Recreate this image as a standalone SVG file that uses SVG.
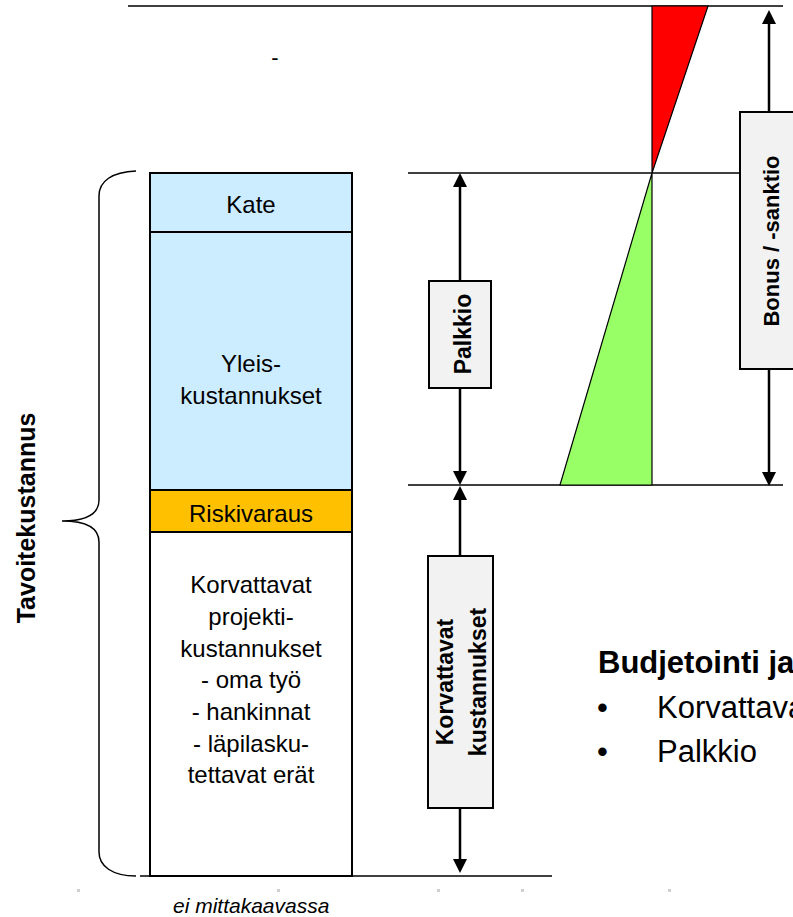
<svg xmlns="http://www.w3.org/2000/svg" width="793" height="917" viewBox="0 0 793 917">
<style>
.t{font-family:"Liberation Sans",Arial,sans-serif;fill:#000}
.c{font-size:24px;text-anchor:middle}
.b{font-weight:bold}
.ln{stroke:#000;stroke-width:1.5;fill:none}
.ar{stroke:#000;stroke-width:2.5;fill:none}
.lbl{fill:#F2F2F2;stroke:#000;stroke-width:2}
.col{stroke:#000;stroke-width:2}
</style>
<defs>
<marker id="ah" markerUnits="userSpaceOnUse" markerWidth="16" markerHeight="16" refX="4" refY="7" orient="auto-start-reverse" viewBox="0 0 16 16">
<path d="M0,0 L14,7 L0,14 z" fill="#000"/>
</marker>
</defs>
<rect width="793" height="917" fill="#fff"/>

<g id="guides">
<line class="ln" x1="128" y1="6" x2="783" y2="6"/>
<line class="ln" x1="408" y1="173" x2="740" y2="173"/>
<line class="ln" x1="408" y1="485" x2="783" y2="485"/>
<line class="ln" x1="140" y1="876" x2="552" y2="876"/>
</g>

<g id="triangles">
<polygon points="652,6 708,6 652,173" fill="#FF0000" stroke="#000" stroke-width="1.2"/>
<polygon points="652,173 652,485 560,485" fill="#99FF66" stroke="#000" stroke-width="1.2"/>
</g>

<text class="t" x="275" y="65" font-size="22" text-anchor="middle">-</text>

<g id="brace">
<path class="ln" d="M136,171 C112,172 99,181 99,196 L99,500 C99,514 86,521 62,521 C86,521 99,528 99,542 L99,852 C99,866 112,876 136,876"/>
</g>
<text class="t b" font-size="25" text-anchor="middle" transform="translate(35,518) rotate(-90)">Tavoitekustannus</text>

<g id="kate">
<rect class="col" x="150" y="173" width="202" height="59" fill="#CCECFF"/>
<text class="t c" x="251" y="213">Kate</text>
</g>
<g id="yleis">
<rect class="col" x="150" y="232" width="202" height="258" fill="#CCECFF"/>
<text class="t c" x="251" y="372">Yleis-</text>
<text class="t c" x="251" y="404">kustannukset</text>
</g>
<g id="riski">
<rect class="col" x="150" y="490" width="202" height="42" fill="#FFC000"/>
<text class="t c" x="251" y="522">Riskivaraus</text>
</g>
<g id="korvattavat">
<rect class="col" x="150" y="532" width="202" height="344" fill="#FFFFFF"/>
<text class="t c" x="251" y="593">Korvattavat</text>
<text class="t c" x="251" y="625">projekti-</text>
<text class="t c" x="251" y="657">kustannukset</text>
<text class="t c" x="251" y="688">- oma työ</text>
<text class="t c" x="251" y="720">- hankinnat</text>
<text class="t c" x="251" y="752">- läpilasku-</text>
<text class="t c" x="251" y="783">tettavat erät</text>
</g>

<g id="connectors">
<line class="ar" x1="460" y1="183" x2="460" y2="475" marker-start="url(#ah)" marker-end="url(#ah)"/>
<line class="ar" x1="460" y1="496" x2="460" y2="863" marker-start="url(#ah)" marker-end="url(#ah)"/>
<line class="ar" x1="769" y1="20" x2="769" y2="476" marker-start="url(#ah)" marker-end="url(#ah)"/>
</g>

<g id="palkkio">
<rect class="lbl" x="429" y="281" width="62" height="107"/>
<text class="t b" font-size="23" text-anchor="middle" transform="translate(471,334) rotate(-90)">Palkkio</text>
</g>
<g id="korv-label">
<rect class="lbl" x="428" y="556" width="65" height="252"/>
<text class="t b" font-size="23" text-anchor="middle" transform="translate(453,682) rotate(-90)">Korvattavat</text>
<text class="t b" font-size="23" text-anchor="middle" transform="translate(486,682) rotate(-90)">kustannukset</text>
</g>
<g id="bonus">
<rect class="lbl" x="740" y="112" width="62" height="257"/>
<text class="t b" font-size="22" text-anchor="middle" transform="translate(779,241) rotate(-90)">Bonus / -sanktio</text>
</g>

<g id="budjetointi">
<text class="t b" x="598" y="673" font-size="31">Budjetointi ja</text>
<text class="t" x="597" y="718" font-size="31">•</text>
<text class="t" x="657" y="718" font-size="31">Korvattavat</text>
<text class="t" x="597" y="762" font-size="31">•</text>
<text class="t" x="657" y="762" font-size="31">Palkkio</text>
</g>

<text class="t" x="173" y="913" font-size="21" font-style="italic">ei mittakaavassa</text>

<g id="dots" fill="#D0D0D0">
<rect x="77" y="889" width="3" height="3"/>
<rect x="277" y="889" width="3" height="3"/>
<rect x="437" y="889" width="3" height="3"/>
<rect x="521" y="889" width="3" height="3"/>
<rect x="668" y="889" width="3" height="3"/>
</g>
</svg>
